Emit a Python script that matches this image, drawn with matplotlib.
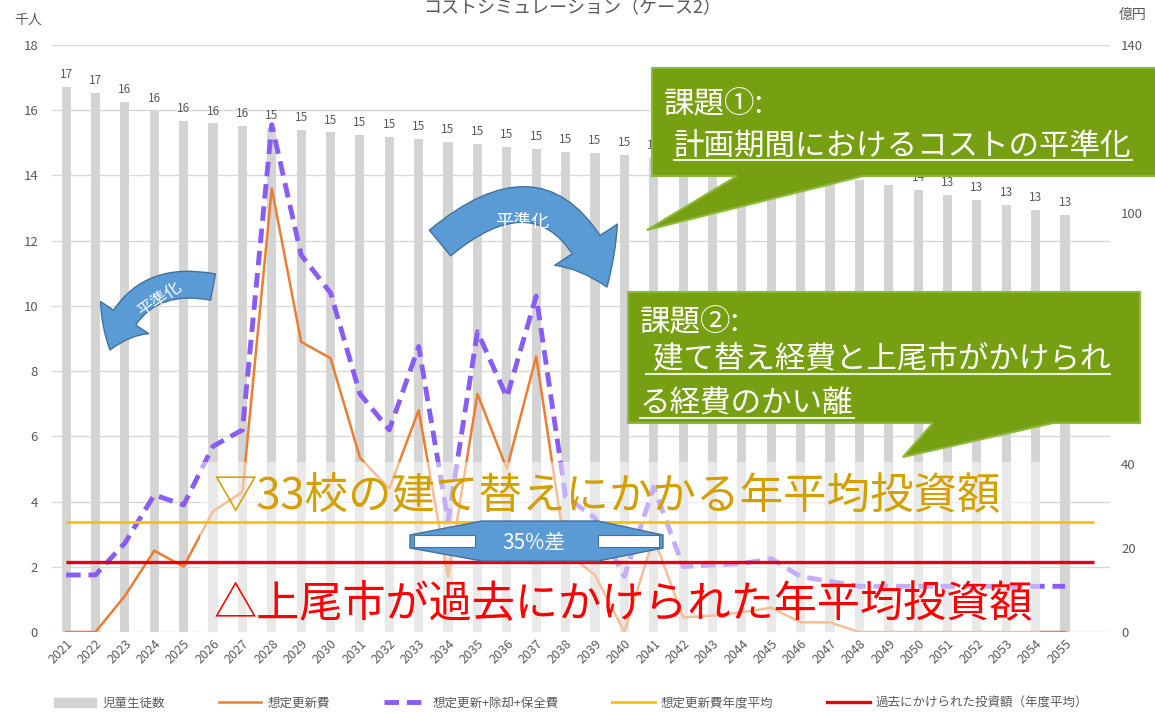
import matplotlib
matplotlib.use('Agg')
import matplotlib.pyplot as plt
from matplotlib.patches import Polygon, Rectangle, FancyArrowPatch, Patch
from matplotlib.lines import Line2D

plt.rcParams['font.family'] = ['Noto Sans CJK JP', 'DejaVu Sans']

W, H = 1155, 713

# ---------------- data ----------------
years = list(range(2021, 2056))
# 児童生徒数 (千人)
students = [16.72, 16.53, 16.26, 15.98, 15.67, 15.60, 15.52, 15.46, 15.40, 15.33,
            15.25, 15.18, 15.12, 15.03, 14.97, 14.88, 14.82, 14.72, 14.69, 14.63,
            14.55, 14.45, 14.35, 14.25, 14.15, 14.05, 13.95, 13.87, 13.71, 13.56,
            13.40, 13.25, 13.10, 12.94, 12.79]
# 想定更新費 (億円)
renewal = [0, 0, 8.6, 19.4, 15.6, 28.8, 33.4, 105.8, 69.2, 65.3,
           41.6, 34.2, 52.9, 13.2, 56.8, 38.9, 65.7, 19.1, 13.6, 0,
           22.6, 3.5, 3.9, 4.7, 5.8, 2.3, 2.3, 0, 0, 0,
           0, 0, 0, 0, 0]
# 想定更新+除却+保全費 (億円)
total = [13.6, 13.6, 21.2, 32.7, 30.3, 44.3, 48.2, 121.0, 89.9, 80.9,
         56.8, 48.2, 68.1, 26.5, 71.6, 56.0, 80.1, 32.3, 27.2, 13.2,
         34.6, 15.6, 16.0, 16.3, 17.5, 13.2, 12.1, 10.9, 10.9, 10.9,
         10.9, 10.9, 10.9, 10.9, 10.9]
renewal_avg = 26.2   # 想定更新費年度平均
past_avg = 16.7      # 過去にかけられた投資額(年度平均)
left_ticks = [0, 2, 4, 6, 8, 10, 12, 14, 16, 18]
right_ticks = [0, 20, 40, 60, 80, 100, 120, 140]
legend_labels = ['児童生徒数', '想定更新費', '想定更新+除却+保全費',
                 '想定更新費年度平均', '過去にかけられた投資額（年度平均）']

C_BAR = '#D4D4D4'
C_OR = '#ED7D31'
C_PU = '#8A5CF6'
C_GOLD = '#FFC000'
C_RED = '#E80010'
C_TXT = '#595959'
DASH = (0, (3, 1.6))

fig = plt.figure(figsize=(W / 100, H / 100), dpi=100)
fig.patch.set_facecolor('white')


def fx(x):
    return x / W


def fy(y):
    return 1 - y / H


# overlay axes in pixel coordinates (for annotations)
ov = fig.add_axes([0, 0, 1, 1])
ov.set_xlim(0, W)
ov.set_ylim(H, 0)
ov.axis('off')
ov.set_zorder(5)
ov.patch.set_alpha(0)

# ---------------- main axes ----------------
ax = fig.add_axes([fx(52), fy(632), (1110 - 52) / W, (632 - 45) / H])
ax.bar(years, students, width=0.31, color=C_BAR, zorder=2)
ax.set_ylim(0, 18)
ax.set_xlim(2020.52, 2056.53)
ax.set_yticks(left_ticks)
ax.grid(axis='y', color='#D9D9D9', lw=1)
ax.set_axisbelow(True)
for s in ax.spines.values():
    s.set_visible(False)
ax.tick_params(length=0, colors=C_TXT, labelsize=9.5)
ax.tick_params(axis='y', pad=10)
ax.set_xticks(years)
ax.set_xticklabels([str(y) for y in years], rotation=45, ha='right', va='top',
                   rotation_mode='anchor', fontsize=9)
ax.tick_params(axis='x', pad=4)
for x, v in zip(years, students):
    ax.annotate(f'{v:.0f}', (x, v), xytext=(0, 4), textcoords='offset points',
                ha='center', va='bottom', fontsize=8.5, color=C_TXT)

ax2 = ax.twinx()
ax2.set_ylim(0, 140)
ax2.set_yticks(right_ticks)
for s in ax2.spines.values():
    s.set_visible(False)
ax2.tick_params(length=0, colors=C_TXT, labelsize=9.5, pad=8)
ax2.plot(years, renewal, color=C_OR, lw=1.8, zorder=2)
ax2.plot(years, total, color=C_PU, lw=3.5, ls=DASH, zorder=2)
# translucent white band behind the big texts
ax2.add_patch(Rectangle((200, 462), 840, 170, transform=ov.transData,
                        facecolor='white', edgecolor='none', alpha=0.5, zorder=3))
ax2.hlines(renewal_avg, 2021, 2056, color=C_GOLD, lw=2, zorder=4)
ax2.hlines(past_avg, 2021, 2056, color=C_RED, lw=2.4, zorder=4)

# ---------------- legend ----------------
handles = [Patch(color=C_BAR),
           Line2D([], [], color=C_OR, lw=1.8),
           Line2D([], [], color=C_PU, lw=3.5, ls=DASH),
           Line2D([], [], color=C_GOLD, lw=2),
           Line2D([], [], color=C_RED, lw=2.4)]
fig.legend(handles, legend_labels, loc='center', bbox_to_anchor=(fx(571), fy(703)),
           ncol=5, frameon=False, fontsize=9, labelcolor=C_TXT, handlelength=3.4,
           columnspacing=4.3, handletextpad=0.5)

# ---------------- titles ----------------
ov.text(572, 8, 'コストシミュレーション（ケース2）', ha='center', va='center',
        fontsize=13, color=C_TXT)
ov.text(28, 20, '千人', ha='center', va='center', fontsize=10, color=C_TXT)
ov.text(1133, 15, '億円', ha='center', va='center', fontsize=10, color=C_TXT)

# ---------------- big overlay texts ----------------
ov.text(214, 497, '▽33校の建て替えにかかる年平均投資額', ha='left', va='center',
        fontsize=31.3, color='#D4A000')
ov.text(214, 605, '△上尾市が過去にかけられた年平均投資額', ha='left', va='center',
        fontsize=31.1, color='#FF0000')

# ---------------- 35% difference arrow ----------------
ov.add_patch(Polygon([(410, 535), (482, 521), (598, 521), (663, 535), (663, 548),
                      (598, 561), (482, 561), (410, 548)], closed=True,
                     facecolor='#5B9BD5', edgecolor='#41719C', lw=1))
ov.add_patch(Rectangle((414, 535), 61, 12, facecolor='white', edgecolor='#41719C', lw=0.8))
ov.add_patch(Rectangle((598, 535), 61, 12, facecolor='white', edgecolor='#41719C', lw=0.8))
ov.text(534, 542, '35%差', ha='center', va='center', fontsize=15, color='white')

# ---------------- curved 平準化 arrows ----------------
ov.add_patch(FancyArrowPatch((213, 287), (110, 350), connectionstyle='arc3,rad=0.45',
                             arrowstyle='simple,tail_width=1.2,head_width=2.6,head_length=1.6',
                             mutation_scale=16, facecolor='#5B9BD5', edgecolor='#41719C',
                             lw=1, shrinkA=0, shrinkB=0))
ov.text(160, 300, '平準化', ha='center', va='center', fontsize=12, color='white',
        rotation=35)
ov.add_patch(FancyArrowPatch((440, 243), (607, 287), connectionstyle='arc3,rad=-0.7',
                             arrowstyle='simple,tail_width=1.2,head_width=2.7,head_length=1.7',
                             mutation_scale=20, facecolor='#5B9BD5', edgecolor='#41719C',
                             lw=1, shrinkA=0, shrinkB=0))
ov.text(522, 222, '平準化', ha='center', va='center', fontsize=13, color='white')

# ---------------- green callouts ----------------
GREEN = '#76A012'
ov.add_patch(Polygon([(652, 68), (1165, 68), (1165, 176), (863, 176), (647, 230),
                      (737, 176), (652, 176)], closed=True,
                     facecolor=GREEN, edgecolor='#8CB83C', lw=1.5))
ov.add_patch(Polygon([(628, 292), (1140, 292), (1140, 423), (1053, 423), (903, 457),
                      (933, 423), (628, 423)], closed=True,
                     facecolor=GREEN, edgecolor='#8CB83C', lw=1.5))

ov.text(664, 105, '課題①:', ha='left', va='center', fontsize=22, color='white')
u1 = ov.text(674, 146, '計画期間におけるコストの平準化', ha='left', va='center',
             fontsize=22, color='white')
ov.text(640, 323, '課題②:', ha='left', va='center', fontsize=22, color='white')
u2 = ov.text(646, 360, ' 建て替え経費と上尾市がかけられ', ha='left', va='center',
             fontsize=22, color='white')
u3 = ov.text(640, 404, 'る経費のかい離', ha='left', va='center', fontsize=22, color='white')

fig.canvas.draw()
inv = ov.transData.inverted()
for t in (u1, u2, u3):
    bb = t.get_window_extent()
    (x0, yb), (x1, _) = inv.transform([[bb.x0, bb.y0], [bb.x1, bb.y1]])
    ov.plot([x0, x1], [yb - 2, yb - 2], color='#E8F0D8', lw=1.5)

fig.savefig('out.png', dpi=100, facecolor='white')
